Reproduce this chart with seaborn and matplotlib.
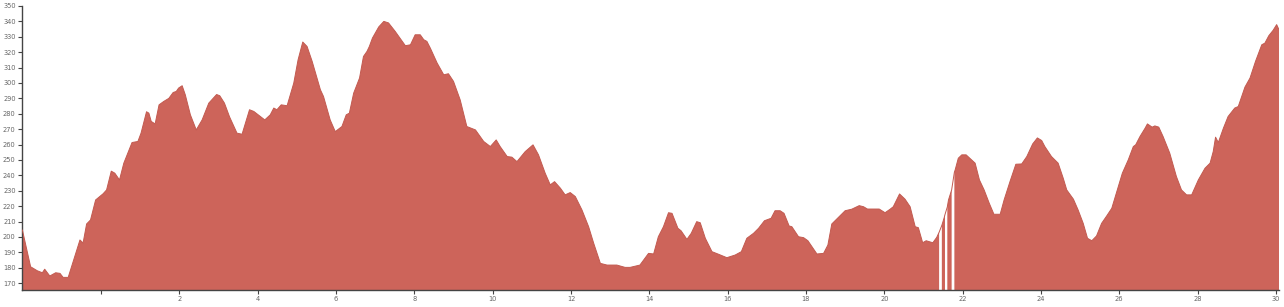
import numpy as np
import pandas as pd
import matplotlib
matplotlib.use("Agg")
import matplotlib.pyplot as plt
import seaborn as sns

distance_km = [
    -2.01, -1.80, -1.63, -1.50, -1.44, -1.31, -1.16, -1.05, -0.97, -0.84,
    -0.70, -0.54, -0.46, -0.37, -0.27, -0.14, 0.05, 0.14, 0.26, 0.35,
    0.47, 0.58, 0.79, 0.94, 1.02, 1.16, 1.22, 1.28, 1.38, 1.48,
    1.60, 1.73, 1.84, 1.92, 1.98, 2.07, 2.15, 2.28, 2.43, 2.58,
    2.75, 2.95, 3.03, 3.15, 3.28, 3.47, 3.60, 3.79, 3.90, 4.18,
    4.32, 4.41, 4.49, 4.60, 4.75, 4.92, 5.03, 5.15, 5.26, 5.39,
    5.60, 5.68, 5.85, 5.98, 6.15, 6.26, 6.34, 6.45, 6.60, 6.70,
    6.79, 6.85, 6.93, 7.09, 7.22, 7.34, 7.51, 7.69, 7.77, 7.90,
    8.02, 8.15, 8.24, 8.32, 8.41, 8.58, 8.75, 8.87, 9.00, 9.17,
    9.34, 9.56, 9.77, 9.94, 10.09, 10.19, 10.37, 10.49, 10.62, 10.83,
    11.03, 11.17, 11.34, 11.47, 11.58, 11.73, 11.85, 11.98, 12.11, 12.28,
    12.45, 12.58, 12.75, 12.92, 13.17, 13.38, 13.51, 13.76, 13.98, 14.11,
    14.23, 14.36, 14.49, 14.58, 14.73, 14.81, 14.96, 15.07, 15.21, 15.30,
    15.43, 15.60, 15.77, 15.98, 16.19, 16.35, 16.49, 16.66, 16.79, 16.94,
    17.11, 17.21, 17.34, 17.44, 17.57, 17.64, 17.81, 17.94, 18.05, 18.28,
    18.45, 18.56, 18.66, 18.83, 19.00, 19.17, 19.36, 19.47, 19.57, 19.87,
    20.02, 20.15, 20.23, 20.39, 20.53, 20.66, 20.79, 20.87, 20.98, 21.07,
    21.24, 21.34, 21.40, 21.43, 21.47, 21.53, 21.55, 21.58, 21.61, 21.64,
    21.72, 21.75, 21.79, 21.81, 21.89, 21.98, 22.09, 22.21, 22.32, 22.43,
    22.55, 22.68, 22.80, 22.96, 23.06, 23.21, 23.36, 23.51, 23.64, 23.79,
    23.91, 24.02, 24.10, 24.27, 24.44, 24.57, 24.66, 24.83, 24.95, 25.08,
    25.19, 25.30, 25.42, 25.55, 25.68, 25.81, 25.93, 26.08, 26.23, 26.36,
    26.42, 26.53, 26.66, 26.72, 26.84, 26.91, 27.01, 27.12, 27.29, 27.46,
    27.59, 27.72, 27.85, 28.02, 28.19, 28.32, 28.40, 28.46, 28.53, 28.66,
    28.78, 28.95, 29.04, 29.21, 29.34, 29.48, 29.64, 29.72, 29.82, 29.93,
    30.02, 30.08,
]
elevation_m = [
    204.5, 180.6, 178.0, 176.7, 179.0, 174.6, 176.7, 176.3, 173.7, 173.7,
    185.0, 198.0, 196.0, 208.4, 211.0, 224.0, 228.0, 230.5, 242.7, 241.4,
    237.0, 247.9, 261.3, 262.0, 267.4, 281.3, 280.4, 275.0, 273.4, 285.8,
    288.0, 290.0, 293.8, 294.5, 296.7, 298.2, 292.3, 279.3, 269.5, 276.0,
    286.9, 292.5, 291.7, 286.9, 278.0, 267.4, 266.7, 282.6, 281.5, 276.0,
    279.3, 283.7, 282.6, 285.8, 285.2, 299.9, 315.0, 326.6, 323.7, 314.0,
    295.6, 291.2, 276.0, 268.4, 271.7, 279.3, 280.4, 293.4, 303.2, 317.2,
    320.5, 323.7, 329.2, 336.4, 340.0, 339.0, 333.5, 327.0, 324.2, 324.8,
    331.3, 331.3, 328.1, 327.0, 322.5, 313.0, 305.3, 306.0, 301.0, 289.0,
    271.7, 269.5, 262.0, 258.7, 263.0, 258.7, 252.2, 251.8, 248.9, 255.4,
    259.8, 253.3, 241.4, 233.8, 235.9, 231.6, 227.3, 228.8, 226.2, 217.5,
    206.6, 195.8, 182.8, 181.7, 181.7, 180.2, 180.2, 181.7, 189.3, 188.9,
    200.1, 206.6, 215.7, 215.3, 205.6, 204.0, 198.4, 202.3, 209.9, 209.2,
    199.1, 190.4, 188.7, 186.5, 188.2, 190.4, 199.1, 202.3, 205.6, 210.5,
    212.1, 217.0, 217.0, 215.3, 207.1, 206.6, 200.1, 199.5, 197.5, 188.9,
    189.3, 194.7, 208.4, 212.7, 217.0, 218.0, 220.3, 219.6, 218.1, 218.1,
    215.7, 218.0, 219.6, 227.9, 224.5, 219.6, 206.6, 206.0, 196.2, 197.5,
    196.2, 199.7, 203.0, np.nan, 207.5, 212.5, 214.5, np.nan, 219.5, 224.0,
    230.5, np.nan, 242.0, 243.5, 251.1, 253.3, 253.3, 250.5, 247.9, 237.0,
    230.5, 221.9, 214.7, 214.7, 224.0, 235.9, 247.2, 247.4, 252.2, 260.4,
    264.3, 262.6, 258.7, 252.2, 247.9, 238.1, 230.5, 224.5, 217.5, 208.8,
    199.1, 197.5, 200.6, 208.8, 213.6, 218.6, 228.8, 241.4, 250.0, 258.7,
    259.8, 265.2, 270.6, 273.4, 271.3, 272.1, 271.3, 265.2, 254.4, 239.2,
    230.5, 227.3, 227.3, 237.0, 244.6, 247.9, 255.4, 264.8, 261.3, 270.6,
    278.2, 283.7, 284.7, 297.3, 303.2, 314.0, 324.8, 325.9, 330.7, 334.2,
    337.9, 334.6,
]
x_ticks = [0, 2, 4, 6, 8, 10, 12, 14, 16, 18, 20, 22, 24, 26, 28, 30]
x_tick_labels = ["", "2", "4", "6", "8", "10", "12", "14", "16", "18", "20",
                 "22", "24", "26", "28", "30"]
y_ticks = list(range(170, 351, 10))

df = pd.DataFrame({"distance": distance_km, "elevation": elevation_m})

sns.set_style("white")
plt.rcParams["font.family"] = ["DejaVu Sans"]

fig = plt.figure(figsize=(12.84, 3.07), dpi=100)
ax = fig.add_axes([22 / 1284, 1 - 290 / 307, (1279 - 22) / 1284, (290 - 6) / 307])

fill_color = "#cd645a"
y_min = 165.5
ax.fill_between(df["distance"], df["elevation"], y_min, color=fill_color,
                linewidth=0, zorder=2)
sns.lineplot(data=df, x="distance", y="elevation", ax=ax, color="#c25a50",
             linewidth=0.7, sort=False, estimator=None, zorder=3)

ax.set_xlim(-2.02, 30.08)
ax.set_ylim(y_min, 350)
ax.set_xticks(x_ticks)
ax.set_xticklabels(x_tick_labels)
ax.set_yticks(y_ticks)
ax.set_yticklabels([str(v) for v in y_ticks])
ax.set_xlabel("")
ax.set_ylabel("")

for side in ["top", "right"]:
    ax.spines[side].set_visible(False)
for side in ["left", "bottom"]:
    ax.spines[side].set_color("#444444")
    ax.spines[side].set_linewidth(1.0)

ax.tick_params(axis="both", which="major", length=3, width=0.8,
               color="#444444", labelsize=4.8, labelcolor="#666666", pad=1.5)
ax.tick_params(axis="x", bottom=True, direction="out")
ax.tick_params(axis="y", left=True, direction="out")
ax.grid(False)

fig.savefig("out.png", dpi=100, facecolor="white")
